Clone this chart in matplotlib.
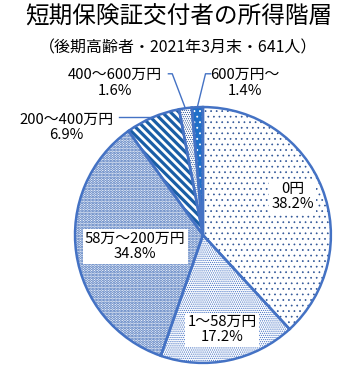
import numpy as np
import matplotlib
matplotlib.use("Agg")
import matplotlib.pyplot as plt

plt.rcParams['font.family'] = ['Noto Sans CJK JP', 'DejaVu Sans']

labels = ["0円", "1～58万円", "58万～200万円", "200～400万円", "400～600万円", "600万円～"]
shares = [38.2, 17.2, 34.8, 6.9, 1.6, 1.4]
pct_text = ["38.2%", "17.2%", "34.8%", "6.9%", "1.6%", "1.4%"]

# hatch styles per slice
faces = ["white", "white", "white", "white", "white", "#1f6fc8"]
hatch_cols = ["#2f5597", "#4472c4", "#3463b4", "#1a5ea6", "#2f5597", "white"]
hatches = ["...", "........", "......", "\\\\\\\\", "........", "..."]
hatch_lw = [0.5, 0.6, 1.4, 2.3, 0.55, 0.6]
edge = "#4472c4"

fig = plt.figure(figsize=(3.57, 3.73), dpi=100)
fig.text(0.5, 0.953, "短期保険証交付者の所得階層", ha='center', va='center', fontsize=17)
fig.text(0.5, 0.872, "（後期高齢者・2021年3月末・641人）", ha='center', va='center', fontsize=11.5)

ax = fig.add_axes([0.210, 0.027, 0.717, 0.686])

wedges, _ = ax.pie(shares, startangle=90, counterclock=False, radius=1,
                   wedgeprops=dict(linewidth=0))
for w, fc, hc, h, lw in zip(wedges, faces, hatch_cols, hatches, hatch_lw):
    w.set_facecolor(fc)
    w.set_edgecolor(hc)
    w.set_hatch(h)
    if hasattr(w, "set_hatch_linewidth"):
        w.set_hatch_linewidth(lw)

# outlines on top
outl, _ = ax.pie(shares, startangle=90, counterclock=False, radius=1,
                 wedgeprops=dict(facecolor='none', edgecolor=edge, linewidth=1.8))

ax.set_xlim(-1, 1)
ax.set_ylim(-1, 1)
ax.set_aspect('equal')
ax.axis('off')

box = dict(boxstyle='square,pad=0.15', facecolor='white', edgecolor='none')

# labels inside the pie
inside_pos = [(0.70, 0.30), (0.15, -0.74), (-0.53, -0.09)]
for i, (x, y) in enumerate(inside_pos):
    ax.text(x, y, labels[i] + "\n" + pct_text[i], ha='center', va='center',
            fontsize=10.7, linespacing=1.15, bbox=box)

# labels outside with leader lines
def arc_point(w):
    ang = np.deg2rad((w.theta1 + w.theta2) / 2)
    return np.cos(ang), np.sin(ang)

out_pos = [(-1.07, 0.84), (-0.69, 1.19), (0.33, 1.19)]
for k, i in enumerate([3, 4, 5]):
    x, y = out_pos[k]
    ax.text(x, y, labels[i] + "\n" + pct_text[i], ha='center', va='center',
            fontsize=10.7, linespacing=1.15, clip_on=False)

lc = "#4472c4"
px, py = arc_point(wedges[3])
ax.plot([-0.66, px], [py, py], color=lc, lw=1, clip_on=False)
px, py = arc_point(wedges[4])
ax.plot([-0.27, -0.24, px], [1.26, 1.26, py], color=lc, lw=1, clip_on=False)
px, py = arc_point(wedges[5])
ax.plot([0.06, 0.02, px], [1.26, 1.26, py], color=lc, lw=1, clip_on=False)

fig.savefig("out.png", dpi=100)
